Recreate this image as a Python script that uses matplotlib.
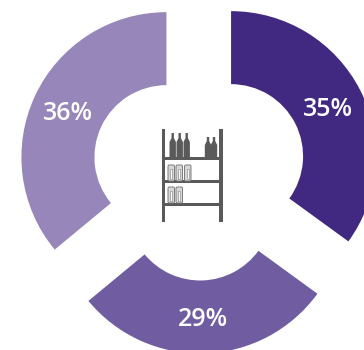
import matplotlib
matplotlib.use("Agg")
import matplotlib.pyplot as plt
from matplotlib.patches import Polygon, Rectangle, FancyBboxPatch

plt.rcParams["font.family"] = ["Open Sans", "DejaVu Sans"]

shares = [35, 29, 36]
share_labels = ["35%", "29%", "36%"]
colors = ["#412881", "#705CA1", "#9686B9"]
label_pos = [(328, 110), (203, 320), (68, 113)]

WIDTH, HEIGHT = 364, 350
RACK = "#5A5A5A"


def flip(y):
    return HEIGHT - y


fig = plt.figure(figsize=(WIDTH / 100, HEIGHT / 100), dpi=100)
ax = fig.add_axes([0, 0, 1, 1])

wedges, _ = ax.pie(shares, colors=colors, startangle=90, counterclock=False,
                   center=(199, flip(172.5)), radius=145, explode=[36, 36, 36],
                   wedgeprops={"width": 73, "linewidth": 0})

ax.set_xlim(0, WIDTH)
ax.set_ylim(0, HEIGHT)
ax.set_aspect("equal")
ax.axis("off")

for text, (x, y) in zip(share_labels, label_pos):
    ax.text(x, flip(y), text, color="white", fontsize=18, fontweight="semibold",
            ha="center", va="center")


# shelf icon in the middle
def rect(x0, y0, x1, y1, **kw):
    ax.add_patch(Rectangle((x0, flip(y1)), x1 - x0, y1 - y0, linewidth=0,
                           facecolor=RACK, **kw))


rect(161.5, 129, 165, 222)
rect(218.5, 129, 222.5, 222)
rect(165, 156.5, 218.5, 160)
rect(165, 179.5, 218.5, 182.5)
rect(165, 203, 218.5, 206)


def bottle(cx, neck_top, body_top, half=3.2):
    pts = [(cx - half, 157), (cx - half, body_top), (cx - 1.2, body_top - 4), (cx - 1.2, neck_top),
           (cx + 1.2, neck_top), (cx + 1.2, body_top - 4), (cx + half, body_top), (cx + half, 157)]
    ax.add_patch(Polygon([(x, flip(y)) for x, y in pts], closed=True, facecolor=RACK, linewidth=0))


for cx in (172.7, 179.7, 186.7):
    bottle(cx, 133, 142)
for cx in (208, 214):
    bottle(cx, 137, 145)


def can(x0, x1, y0, y1):
    ax.add_patch(FancyBboxPatch((x0 + 1, flip(y1) + 1), x1 - x0 - 2, y1 - y0 - 2,
                                boxstyle="round,pad=1,rounding_size=1.5",
                                facecolor="#D8D8D8", edgecolor="#7A7A7A", linewidth=0.7))
    ax.add_patch(Rectangle((x0 + 2.2, flip(y1) + 2), x1 - x0 - 4.4, y1 - y0 - 6,
                           facecolor="white", edgecolor="#909090", linewidth=0.5))


for x0, x1 in ((168, 174.5), (176, 182.5), (184.5, 191)):
    can(x0, x1, 165, 181)
for x0, x1 in ((168, 174.5), (176, 182.5)):
    can(x0, x1, 187, 203)

fig.savefig("out.png", dpi=100, facecolor="white")
